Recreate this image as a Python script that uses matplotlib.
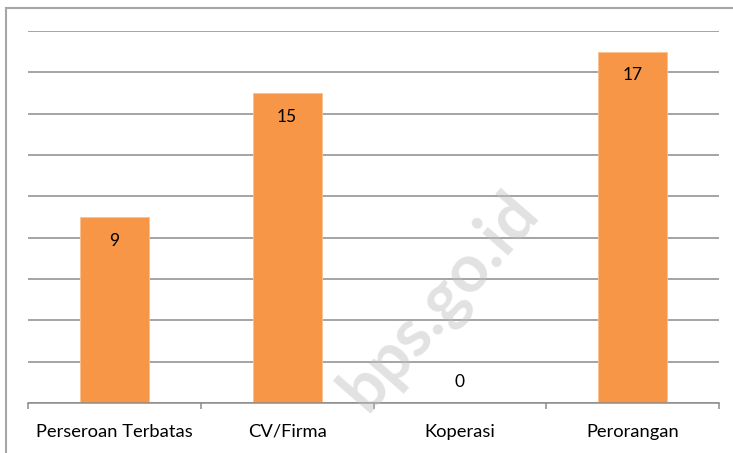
import matplotlib.pyplot as plt
import numpy as np
from matplotlib.patches import Rectangle

# data
categories = ["Perseroan Terbatas", "CV/Firma", "Koperasi", "Perorangan"]
values = [9, 15, 0, 17]

plt.rcParams['font.family'] = ['Lato', 'DejaVu Sans']

fig = plt.figure(figsize=(7.33, 4.53), dpi=100)
ax = fig.add_axes([28/733, 1-403/453, (719-28)/733, (403-31)/453])

# outer chart frame (cut off at right and bottom like the source)
fig.patches.append(Rectangle((6/733, -0.2), 1.2, 1.2 - 8/453, transform=fig.transFigure,
                             fill=False, edgecolor='#a6a6a6', lw=1.5, zorder=0))

x = np.arange(len(categories))
ax.bar(x, values, width=0.4, color='#F79646', edgecolor='#FAC090', lw=0.6, zorder=2)

for xi, v in zip(x, values):
    if v > 0:
        ax.annotate(str(v), (xi, v), xytext=(0, -17), textcoords='offset points',
                    ha='center', va='center', fontsize=12.5, color='black', zorder=3)
    else:
        ax.annotate(str(v), (xi, v), xytext=(0, 15), textcoords='offset points',
                    ha='center', va='center', fontsize=12.5, color='black', zorder=3)

ax.set_xlim(-0.5, len(categories) - 0.5)
ax.set_ylim(0, 18)
ax.set_yticks(np.arange(0, 19, 2))
ax.yaxis.grid(True, color='#8c8c8c', lw=1.1, zorder=1)
ax.tick_params(axis='y', left=False, labelleft=False)

for s in ['top', 'right', 'left']:
    ax.spines[s].set_visible(False)
ax.spines['bottom'].set_color('#8c8c8c')
ax.spines['bottom'].set_linewidth(1.1)

ax.set_xticks(np.arange(-0.5, len(categories), 1))
ax.set_xticklabels([])
ax.tick_params(axis='x', direction='out', length=4, color='#8c8c8c', width=1.1)
ax.set_xticks(x, minor=True)
ax.set_xticklabels(categories, minor=True, fontsize=13.2)
ax.tick_params(axis='x', which='minor', length=0, pad=15)

# watermark
fig.text(0.600, 0.335, "bps.go.id", rotation=49, fontsize=48, fontweight='bold',
         color='#bfbfbf', alpha=0.45, ha='center', va='center', zorder=10)

fig.savefig("out.png", dpi=100)
